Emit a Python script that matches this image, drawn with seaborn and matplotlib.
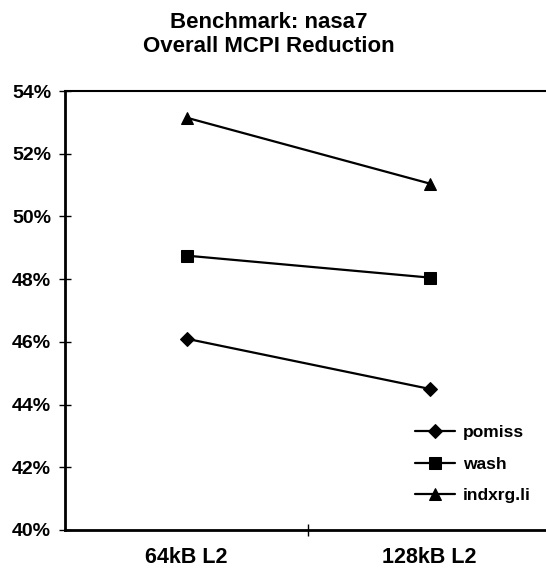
import matplotlib
matplotlib.use("Agg")
import matplotlib.pyplot as plt
import seaborn as sns
import pandas as pd
from matplotlib.ticker import FixedLocator

categories = ["64kB L2", "128kB L2"]
series_names = ["pomiss", "wash", "indxrg.li"]
pomiss = [46.1, 44.5]
wash = [48.75, 48.05]
indxrg_li = [53.15, 51.05]
yticks = [40, 42, 44, 46, 48, 50, 52, 54]

rows = []
for name, vals in zip(series_names, [pomiss, wash, indxrg_li]):
    for i, (c, v) in enumerate(zip(categories, vals)):
        rows.append({"config": c, "pos": i, "value": v, "series": name})
df = pd.DataFrame(rows)

sns.set_theme(style="white")
plt.rcParams["font.family"] = ["Liberation Sans", "DejaVu Sans"]
plt.rcParams["text.color"] = "black"
plt.rcParams["xtick.color"] = "black"
plt.rcParams["ytick.color"] = "black"
plt.rcParams["axes.labelcolor"] = "black"

fig = plt.figure(figsize=(5.46, 5.72), dpi=100)
ax = fig.add_axes([65 / 546, 1 - 530 / 572, 486 / 546, 439 / 572])

sns.lineplot(data=df, x="pos", y="value", hue="series", style="series",
             hue_order=series_names, style_order=series_names,
             palette=["black"] * 3, markers={"pomiss": "D", "wash": "s", "indxrg.li": "^"},
             dashes=False, markersize=9, linewidth=1.6, ax=ax,
             markeredgecolor="black")
for ln in ax.lines:
    if ln.get_marker() == "D":
        ln.set_markersize(7)

ax.set_xlim(-0.5, 1.5)
ax.set_ylim(40, 54)
ax.set_xticks([0, 1])
ax.set_xticklabels(categories, fontsize=15.5, fontweight="bold", color="black")
ax.xaxis.set_minor_locator(FixedLocator([0.5]))
ax.tick_params(axis="x", which="major", length=0, pad=12)
ax.tick_params(axis="x", which="minor", bottom=True, length=8, direction="inout", width=1, color="black")
ax.set_yticks(yticks)
ax.set_yticklabels([f"{t}%" for t in yticks], fontsize=14, fontweight="bold", color="black")
ax.tick_params(axis="y", left=True, length=8, direction="inout", width=1, color="black", pad=6)
ax.set_xlabel("")
ax.set_ylabel("")

for s in ["left", "bottom"]:
    ax.spines[s].set_color("black")
    ax.spines[s].set_linewidth(2.0)
ax.spines["top"].set_color("black")
ax.spines["top"].set_linewidth(1.5)
ax.spines["right"].set_color("black")
ax.spines["right"].set_linewidth(1.5)

leg = ax.legend(loc="lower right", bbox_to_anchor=(0.99, 0.025), frameon=False,
                fontsize=12.5, handlelength=2.3, labelspacing=0.95, handletextpad=0.45,
                markerscale=0.9)
for t in leg.get_texts():
    t.set_fontweight("bold")
    t.set_color("black")
for h in leg.legend_handles:
    if h.get_marker() == "D":
        h.set_markersize(7)

fig.text(0.493, 1 - 23 / 572, "Benchmark: nasa7", ha="center", va="center",
         fontsize=16, fontweight="bold", color="black")
fig.text(0.493, 1 - 47 / 572, "Overall MCPI Reduction", ha="center", va="center",
         fontsize=16, fontweight="bold", color="black")

fig.savefig("out.png", dpi=100)
